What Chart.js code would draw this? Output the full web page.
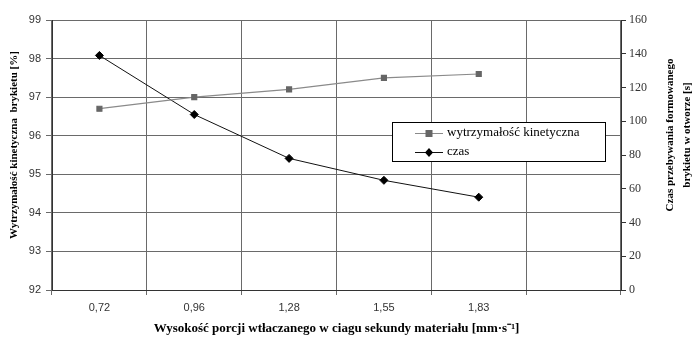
<!DOCTYPE html>
<html>
<head>
<meta charset="utf-8">
<script src="https://cdn.jsdelivr.net/npm/chart.js@4/dist/chart.umd.min.js"></script>
<style>
html,body{margin:0;padding:0;background:#fff;}
#wrap{width:694px;height:338px;}
</style>
</head>
<body>
<div id="wrap"><canvas id="c" width="694" height="338"></canvas></div>
<script>
const categories = ['0,72', '0,96', '1,28', '1,55', '1,83', ''];
const strengthValues = [96.7, 97.0, 97.2, 97.5, 97.6, null];
const timeValues = [139, 104, 78, 65, 55, null];
const seriesNames = ['wytrzymałość kinetyczna', 'czas'];
const leftTicks = {min: 92, max: 99, step: 1};
const rightTicks = {min: 0, max: 160, step: 20};
const xTitle = 'Wysokość porcji wtłaczanego w ciagu sekundy materiału [mm·s⁻¹]';
const leftTitle = 'Wytrzymałość kinetyczna  brykietu [%]';
const rightTitle = ['Czas przebywania formowanego', 'brykietu w otworze [s]'];

const serif = '"Liberation Serif", "Times New Roman", serif';
const sans = '"Liberation Sans", Arial, sans-serif';
const gridColor = '#6a6a6a';

const titlesPlugin = {
  id: 'sideTitles',
  afterDraw(chart) {
    const ctx = chart.ctx;
    const ca = chart.chartArea;
    const cy = (ca.top + ca.bottom) / 2 - 10;
    ctx.save();
    ctx.fillStyle = '#000';
    ctx.textAlign = 'center';
    ctx.textBaseline = 'middle';
    ctx.font = 'bold 11px ' + serif;
    ctx.save();
    ctx.translate(14, cy);
    ctx.rotate(-Math.PI / 2);
    ctx.fillText(leftTitle, 0, 0);
    ctx.restore();
    ctx.font = 'bold 11px ' + serif;
    rightTitle.forEach((t, i) => {
      ctx.save();
      ctx.translate(670 + i * 17, cy - 10);
      ctx.rotate(-Math.PI / 2);
      ctx.fillText(t, 0, 0);
      ctx.restore();
    });
    ctx.restore();
  }
};

const legendPlugin = {
  id: 'boxLegend',
  afterDraw(chart) {
    const ctx = chart.ctx;
    const x0 = 392, y0 = 122, w = 213, h = 39;
    ctx.save();
    ctx.fillStyle = '#fff';
    ctx.fillRect(x0, y0, w, h);
    ctx.strokeStyle = '#000';
    ctx.lineWidth = 1;
    ctx.strokeRect(x0 + 0.5, y0 + 0.5, w, h);
    ctx.font = '13px ' + serif;
    ctx.textBaseline = 'middle';
    chart.data.datasets.forEach((ds, i) => {
      const y = y0 + 11 + i * 19;
      ctx.strokeStyle = ds.borderColor;
      ctx.lineWidth = 1;
      ctx.beginPath();
      ctx.moveTo(x0 + 23, y + 0.5);
      ctx.lineTo(x0 + 51, y + 0.5);
      ctx.stroke();
      ctx.fillStyle = ds.pointBackgroundColor;
      const mx = x0 + 37;
      if (ds.pointStyle === 'rect') {
        ctx.fillRect(mx - 3.5, y - 3, 7, 7);
      } else {
        ctx.beginPath();
        ctx.moveTo(mx, y - 4);
        ctx.lineTo(mx + 4, y + 0.5);
        ctx.lineTo(mx, y + 5);
        ctx.lineTo(mx - 4, y + 0.5);
        ctx.closePath();
        ctx.fill();
      }
      ctx.fillStyle = '#000';
      ctx.textAlign = 'left';
      ctx.fillText(ds.label, x0 + 55, y);
    });
    ctx.restore();
  }
};

new Chart(document.getElementById('c'), {
  type: 'line',
  data: {
    labels: categories,
    datasets: [
      {
        label: seriesNames[0],
        data: strengthValues,
        yAxisID: 'y',
        borderColor: '#8a8a8a',
        backgroundColor: '#666',
        pointBackgroundColor: '#666',
        pointBorderColor: '#666',
        pointStyle: 'rect',
        pointRadius: 3.5,
        borderWidth: 1.2,
        tension: 0
      },
      {
        label: seriesNames[1],
        data: timeValues,
        yAxisID: 'y1',
        borderColor: '#111',
        backgroundColor: '#000',
        pointBackgroundColor: '#000',
        pointBorderColor: '#000',
        pointStyle: 'rectRot',
        pointRadius: 4,
        borderWidth: 1,
        tension: 0
      }
    ]
  },
  options: {
    responsive: false,
    animation: false,
    devicePixelRatio: 1,
    layout: {padding: {top: 20, left: 0, right: 0, bottom: 0}},
    plugins: {legend: {display: false}, tooltip: {enabled: false}},
    scales: {
      x: {
        offset: true,
        grid: {offset: true, color: gridColor, lineWidth: 1, tickLength: 5, drawTicks: true},
        border: {color: '#333', width: 1},
        ticks: {color: '#333', font: {family: sans, size: 11}, padding: 6, maxRotation: 0, autoSkip: false},
        title: {display: true, text: xTitle, color: '#000', font: {family: serif, size: 13, weight: 'bold'}, padding: {top: 4, bottom: 2}},
        afterFit(s) { s.height = 48; }
      },
      y: {
        position: 'left',
        min: leftTicks.min, max: leftTicks.max,
        ticks: {stepSize: leftTicks.step, color: '#333', font: {family: sans, size: 11}, padding: 5},
        grid: {color: gridColor, lineWidth: 1, tickLength: 6},
        border: {color: '#333', width: 1},
        afterFit(s) { s.width = 52; }
      },
      y1: {
        position: 'right',
        min: rightTicks.min, max: rightTicks.max,
        ticks: {stepSize: rightTicks.step, color: '#333', font: {family: serif, size: 12}, padding: 3},
        grid: {drawOnChartArea: false, color: '#333', tickLength: 5},
        border: {color: '#333', width: 1},
        afterFit(s) { s.width = 73; }
      }
    }
  },
  plugins: [legendPlugin, titlesPlugin]
});
</script>
</body>
</html>
